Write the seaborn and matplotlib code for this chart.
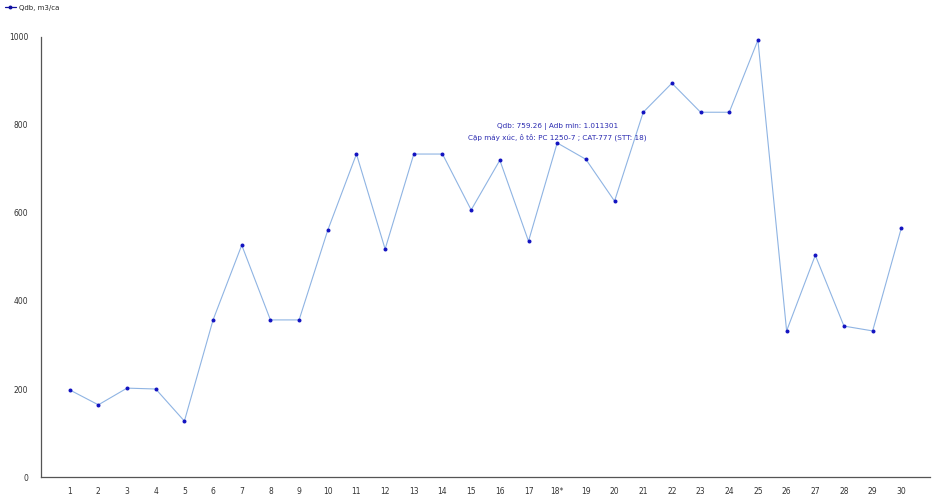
import matplotlib
matplotlib.use("Agg")
import matplotlib.pyplot as plt
import seaborn as sns
import pandas as pd

stt = list(range(1, 31))
tick_labels = ["1", "2", "3", "4", "5", "6", "7", "8", "9", "10", "11", "12", "13", "14", "15",
               "16", "17", "18*", "19", "20", "21", "22", "23", "24", "25", "26", "27", "28", "29", "30"]
qdb = [198, 164, 202, 200, 127, 357, 527, 357, 357, 561,
       734, 518, 734, 734, 607, 720, 536, 759.26, 722, 627,
       829, 895, 829, 829, 993, 332, 504, 343, 332, 566]
series_name = "Qdb, m3/ca"
tooltip = "Qdb: 759.26 | Adb min: 1.011301\nCặp máy xúc, ô tô: PC 1250-7 ; CAT-777 (STT: 18)"

df = pd.DataFrame({"stt": stt, "qdb": qdb})

sns.set_style("white")
plt.rcParams["font.family"] = ["DejaVu Sans"]

fig = plt.figure(figsize=(9.35, 4.94), dpi=100)
ax = fig.add_axes([41 / 935, 17 / 494, (930 - 41) / 935, (477 - 37) / 494])

sns.lineplot(data=df, x="stt", y="qdb", ax=ax, color="#8fb4e3", linewidth=0.8,
             marker="o", markersize=2.1, markerfacecolor="#1010c0", markeredgecolor="#1010c0",
             label=series_name, legend=False)

ax.set_xlim(0, 31)
ax.set_ylim(0, 1000)
ax.set_xticks(stt)
ax.set_xticklabels(tick_labels)
ax.set_yticks([0, 200, 400, 600, 800, 1000])
ax.set_xlabel("")
ax.set_ylabel("")
for s in ["top", "right"]:
    ax.spines[s].set_visible(False)
for s in ["left", "bottom"]:
    ax.spines[s].set_color("#555555")
    ax.spines[s].set_linewidth(0.9)
ax.tick_params(axis="both", labelsize=5.5, colors="#333333", length=6, width=0.8,
               direction="out", pad=3)
ax.tick_params(axis="x", length=4, color="#aaaaaa")
ax.set_xticks([31], minor=True)
ax.tick_params(axis="x", which="minor", length=5, color="#555555")

ax.text(18, 784, tooltip, ha="center", va="center", fontsize=5.2, color="#2a2ab0",
        linespacing=1.5)

# legend
from matplotlib.lines import Line2D
h = [Line2D([0], [0], color="#1010a0", linewidth=0.9, marker="o", markersize=1.8)]
fig.legend(h, [series_name], loc="upper left", bbox_to_anchor=(0.0, 1.0), frameon=False,
           fontsize=5, handlelength=1.6, handletextpad=0.5, borderaxespad=0.3)

fig.savefig("out.png", dpi=100)
